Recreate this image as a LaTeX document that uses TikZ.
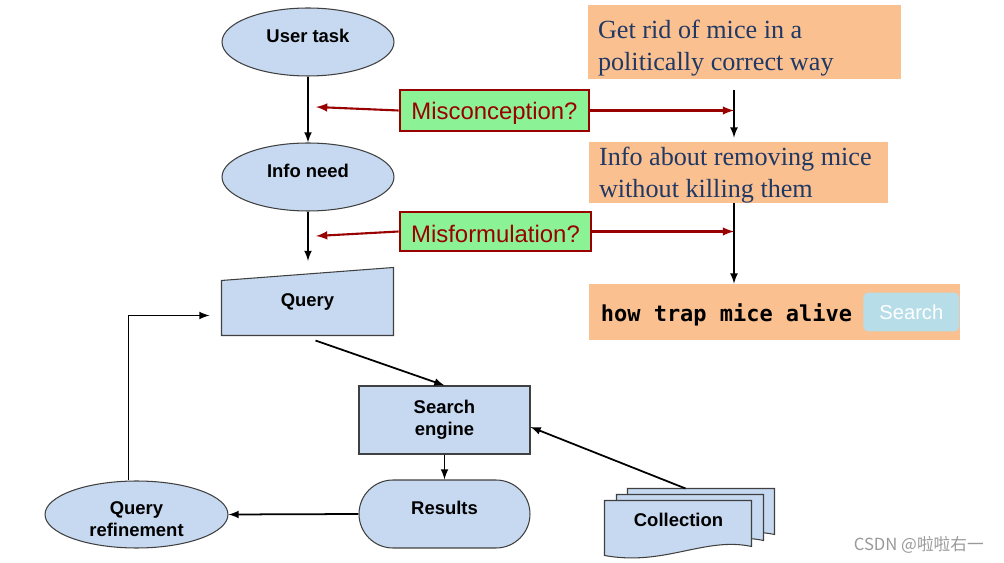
\documentclass[tikz,border=0pt]{standalone}
\usepackage{fontspec}
\usepackage{tikz}
\usepackage{xcolor}
\usetikzlibrary{arrows,positioning,shapes.geometric,calc,backgrounds}
\setmainfont{Liberation Sans}
\newfontfamily\slidefont{Liberation Serif}
\newfontfamily\codefont{DejaVu Sans Mono}
\newfontfamily\cjkfont{Noto Sans CJK SC}
\definecolor{boxblue}{RGB}{198,217,240}
\definecolor{boxedge}{RGB}{64,64,64}
\definecolor{noteorange}{RGB}{250,192,144}
\definecolor{noteblue}{RGB}{32,56,100}
\definecolor{warnred}{RGB}{153,0,0}
\definecolor{warngreen}{RGB}{140,242,150}
\definecolor{btnblue}{RGB}{183,221,232}
\tikzset{
    %Define style for flow boxes
    flowbox/.style={
           rectangle,
           draw=boxedge, line width=0.6pt,
           fill=boxblue,
           minimum width=3.42cm,
           minimum height=1.36cm,
           align=center,
           font=\bfseries\fontsize{10.5}{12.6}\selectfont},
    flowellipse/.style={
           flowbox,
           ellipse,
           inner sep=1pt,
           minimum width=3.44cm},
    shapeline/.style={draw=boxedge, line width=0.6pt, fill=boxblue},
    raised/.style={text depth=7pt},
    %Define style for the notes on the right
    notebox/.style={
           rectangle,
           fill=noteorange,
           inner sep=0pt},
    notetext/.style={
           anchor=west,
           inner sep=0pt,
           align=left,
           text=noteblue,
           font=\slidefont\fontsize{14.9}{18.2}\selectfont},
    warnbox/.style={
           rectangle,
           draw=warnred, line width=1.6pt,
           fill=warngreen,
           text=warnred,
           text height=12.6pt,
           font=\fontsize{13.6}{16}\selectfont},
    btnbox/.style={
           rectangle,
           rounded corners=0.1cm,
           fill=btnblue,
           text=white,
           minimum width=1.92cm,
           minimum height=0.78cm,
           font=\fontsize{11.5}{13}\selectfont},
    flowarrow/.style={->, line width=1pt, black},
    warnarrow/.style={->, line width=1.2pt, warnred}
}
\def\notegap{0.22cm}

\begin{document}
\begin{tikzpicture}[>=latex, x=0.02cm, y=-0.02cm]
\useasboundingbox (0,0) rectangle (1004,563);
\node[flowellipse, raised] (usertask) at (308,42) {User task};
\node[flowellipse, raised] (infoneed) at (308,177) {Info need};
\node[flowbox, draw=none, fill=none, minimum width=3.42cm, minimum height=1.34cm] (query) at (307.5,301.5) {Query};
\node[flowbox] (engine) at (444.5,420) {Search\\engine};
\node[flowbox, rounded corners=0.68cm, raised] (results) at (444.5,514) {Results};
\node[flowellipse, inner sep=0pt, minimum width=3.66cm, minimum height=1.34cm, text height=25pt] (refine) at (136.5,514.5) {Query\\refinement};
\node[flowbox, draw=none, fill=none, minimum width=2.94cm, minimum height=0.98cm, raised] (coll) at (678.5,525.5) {Collection};
\begin{scope}[on background layer]
\draw[shapeline] (query.south west) -- (query.south east) -- (query.north east) -- ($(query.north west)+(0,13)$) -- cycle;
\foreach \dx/\dy in {23/-12,12/-6,0/0}
  \draw[shapeline, shift={(coll.north west)}] (\dx,\dy) -- (\dx+147,\dy) -- (\dx+147,\dy+46) .. controls (\dx+100,\dy+36) and (\dx+60,\dy+66) .. (\dx,\dy+55) -- cycle;
\end{scope}
\draw[flowarrow] (usertask.south) -- (infoneed.north);
\draw[flowarrow, shorten >=0.13cm] (infoneed.south) -- (infoneed.south |- query.north);
\draw[flowarrow] ($(query.south)+(8,5)$) -- (engine.north);
\draw[flowarrow] (engine.south) -- (results.north);
\draw[flowarrow] (results.west) -- (refine.east);
\draw[flowarrow] ($(refine.north)+(-8,0)$) |- ($(query.west)+(-12,14)$);
\draw[flowarrow] ($(coll.north)+(7,-12)$) -- ($(engine.east)+(0,7)$);
\node[notebox, minimum width=6.26cm, minimum height=1.48cm] (getrid) at (744.5,42) {};
\node[notetext] (getridtext) at ($(getrid.west)+(10,6)$) {Get rid of mice in a\\politically correct way};
\node[notebox, minimum width=5.98cm, minimum height=1.22cm] (infoabout) at (738.5,172.5) {};
\node[notetext] (infoabouttext) at ($(infoabout.west)+(10,2.5)$) {Info about removing mice\\without killing them};
\node[notebox, minimum width=7.42cm, minimum height=1.12cm] (querybox) at (774.5,312) {};
\node[anchor=west, font=\codefont\bfseries\fontsize{12.5}{15}\selectfont] (typed) at ($(querybox.west)+(6,3)$) {how trap mice alive};
\node[btnbox] (searchbtn) at ($(querybox.east)+(-49,0)$) {Search};
\node[warnbox, minimum width=3.78cm, minimum height=0.82cm] (concept) at (494.5,110.5) {Misconception?};
\node[warnbox, minimum width=3.82cm, minimum height=0.78cm] (formul) at (495.5,231.5) {Misformulation?};
\coordinate (splitx) at (734,0);
\coordinate (conceptin) at (316,107);
\coordinate (formulin) at (316,236);
\draw[flowarrow, shorten <=\notegap, shorten >=0.08cm] (getrid.south -| splitx) -- (infoabout.north -| splitx);
\draw[flowarrow] (infoabout.south -| splitx) -- (querybox.north -| splitx);
\draw[warnarrow] (concept.west) -- (conceptin);
\draw[warnarrow] (concept.east) -- (concept.east -| splitx);
\draw[warnarrow] (formul.west) -- (formulin);
\draw[warnarrow] (formul.east) -- (formul.east -| splitx);
\node[anchor=east, text=gray!80, font=\cjkfont\fontsize{9.5}{11}\selectfont] (mark) at (990,545) {CSDN @啦啦右一};
\end{tikzpicture}
\end{document}
